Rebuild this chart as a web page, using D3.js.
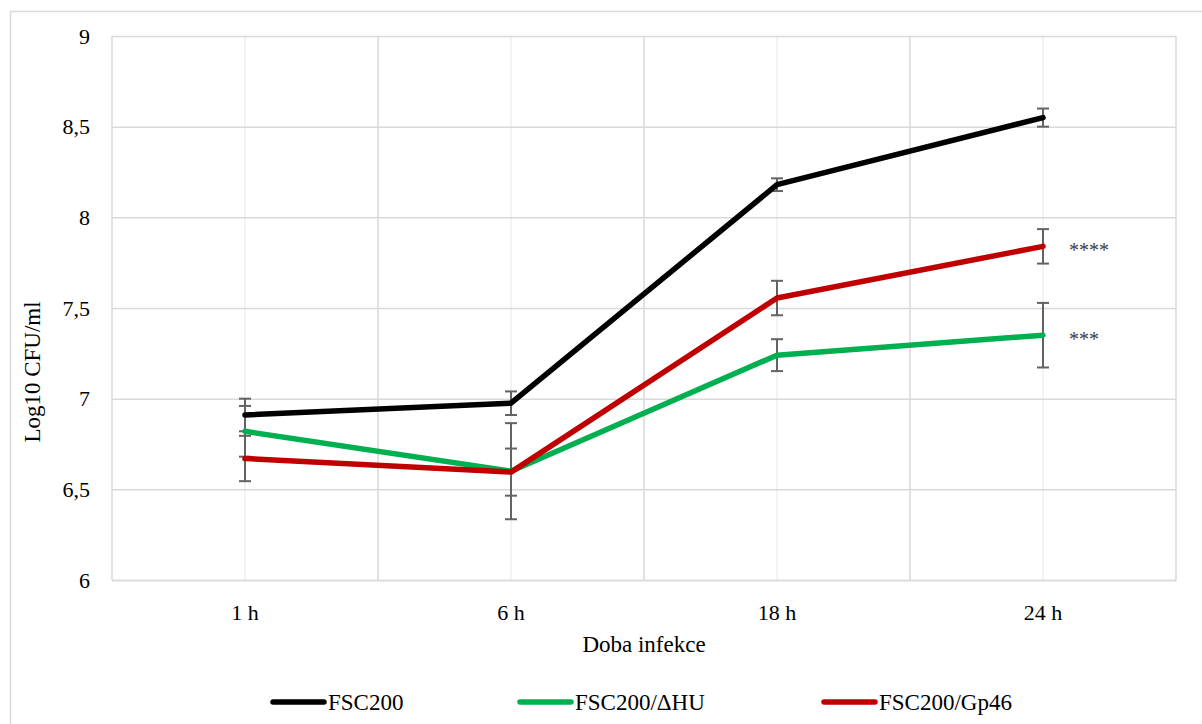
<!DOCTYPE html>
<html>
<head>
<meta charset="utf-8">
<script src="https://cdn.jsdelivr.net/npm/d3@7/dist/d3.min.js"></script>
<style>
  html, body { margin: 0; padding: 0; background: #fff; }
  svg { display: block; }
  text { font-family: "Liberation Serif", "Times New Roman", serif; }
</style>
</head>
<body>
<svg id="chart" width="1202" height="724"></svg>
<script>
// Time points of infection
const categories = ["1 h", "6 h", "18 h", "24 h"];

// Mean log10 CFU/ml per strain
const fsc200 = [6.91, 6.975, 8.18, 8.55];
const fsc200dHU = [6.82, 6.60, 7.24, 7.35];
const fsc200Gp46 = [6.67, 6.595, 7.555, 7.84];

// Error (± SD) per strain
const fsc200Err = [0.09, 0.065, 0.035, 0.05];
const fsc200dHUErr = [0.14, 0.265, 0.088, 0.178];
const fsc200Gp46Err = [0.125, 0.13, 0.095, 0.095];

// Significance marks at the last time point
const sigLabels = [
  { series: 2, text: "****" },
  { series: 1, text: "***" }
];

const yTicks = [6, 6.5, 7, 7.5, 8, 8.5, 9];

const series = [
  { name: "FSC200", values: fsc200, err: fsc200Err, color: "#000000" },
  { name: "FSC200/ΔHU", values: fsc200dHU, err: fsc200dHUErr, color: "#00b050" },
  { name: "FSC200/Gp46", values: fsc200Gp46, err: fsc200Gp46Err, color: "#c00000" }
];

const svg = d3.select("#chart");
const plot = { left: 112, right: 1176, top: 36, bottom: 580 };

// Outer chart frame
svg.append("rect")
  .attr("x", 10.5).attr("y", 11.5)
  .attr("width", 1200).attr("height", 730)
  .attr("fill", "none").attr("stroke", "#d9d9d9").attr("stroke-width", 1.5);

const x = d3.scaleBand().domain(categories).range([plot.left, plot.right]);
const xc = c => x(c) + x.bandwidth() / 2;
const y = d3.scaleLinear().domain([6, 9]).range([plot.bottom, plot.top]);

const fmt = v => String(v).replace(".", ",");

// Faint vertical lines at category centres
svg.append("g").selectAll("line").data(categories).join("line")
  .attr("x1", d => xc(d)).attr("x2", d => xc(d))
  .attr("y1", plot.top).attr("y2", plot.bottom)
  .attr("stroke", "#efefef").attr("stroke-width", 1.5);

// Vertical grid at category boundaries
const bounds = categories.map(c => x(c)).concat([plot.right]);
svg.append("g").selectAll("line").data(bounds).join("line")
  .attr("x1", d => d).attr("x2", d => d)
  .attr("y1", plot.top).attr("y2", plot.bottom)
  .attr("stroke", "#d9d9d9").attr("stroke-width", 1.5);

// Horizontal grid + y axis labels
const yAxis = d3.axisLeft(y).tickValues(yTicks).tickFormat(fmt)
  .tickSize(-(plot.right - plot.left)).tickPadding(22);
const gy = svg.append("g").attr("transform", `translate(${plot.left},0)`).call(yAxis);
gy.select(".domain").remove();
gy.selectAll(".tick line").attr("stroke", "#d9d9d9").attr("stroke-width", 1.5);
gy.selectAll(".tick text")
  .attr("font-size", 22).attr("fill", "#000")
  .style("font-family", "'Liberation Serif', serif");

// X axis labels
const xAxis = d3.axisBottom(x).tickSize(0).tickPadding(24);
const gx = svg.append("g").attr("transform", `translate(0,${plot.bottom})`).call(xAxis);
gx.select(".domain").attr("stroke", "#d9d9d9").attr("stroke-width", 1.5);
gx.selectAll(".tick text")
  .attr("font-size", 22).attr("fill", "#000")
  .style("font-family", "'Liberation Serif', serif");

// Error bars
const eb = svg.append("g");
series.forEach(s => {
  const g = eb.append("g").attr("stroke", "#636363").attr("stroke-width", 2);
  categories.forEach((c, i) => {
    const cx = xc(c);
    const lo = y(s.values[i] - s.err[i]);
    const hi = y(s.values[i] + s.err[i]);
    g.append("line").attr("x1", cx).attr("x2", cx).attr("y1", lo).attr("y2", hi);
    g.append("line").attr("x1", cx - 6).attr("x2", cx + 6).attr("y1", lo).attr("y2", lo);
    g.append("line").attr("x1", cx - 6).attr("x2", cx + 6).attr("y1", hi).attr("y2", hi);
  });
});

// Series lines
const line = d3.line().x((d, i) => xc(categories[i])).y(d => y(d));
series.forEach(s => {
  svg.append("path")
    .datum(s.values)
    .attr("d", line)
    .attr("fill", "none")
    .attr("stroke", s.color)
    .attr("stroke-width", 5.5)
    .attr("stroke-linejoin", "round")
    .attr("stroke-linecap", "round");
});

// Significance marks
const last = categories[categories.length - 1];
svg.append("g").selectAll("text").data(sigLabels).join("text")
  .attr("x", xc(last) + 26)
  .attr("y", d => y(series[d.series].values[categories.length - 1]) + 11)
  .attr("font-size", 20).attr("fill", "#404040")
  .text(d => d.text);

// Axis titles
svg.append("text")
  .attr("transform", `translate(40,372) rotate(-90)`)
  .attr("text-anchor", "middle")
  .attr("font-size", 23).attr("fill", "#000")
  .text("Log10 CFU/ml");

svg.append("text")
  .attr("x", (plot.left + plot.right) / 2).attr("y", 652)
  .attr("text-anchor", "middle")
  .attr("font-size", 23).attr("fill", "#000")
  .text("Doba infekce");

// Legend
const legendX = [271, 518, 822];
const lg = svg.append("g");
series.forEach((s, i) => {
  const g = lg.append("g").attr("transform", `translate(${legendX[i]},702)`);
  g.append("line").attr("x1", 2).attr("x2", 53).attr("y1", 0).attr("y2", 0)
    .attr("stroke", s.color).attr("stroke-width", 5.5).attr("stroke-linecap", "round");
  g.append("text").attr("x", 57).attr("y", 8)
    .attr("font-size", 23).attr("fill", "#000")
    .text(s.name);
});
</script>
</body>
</html>
